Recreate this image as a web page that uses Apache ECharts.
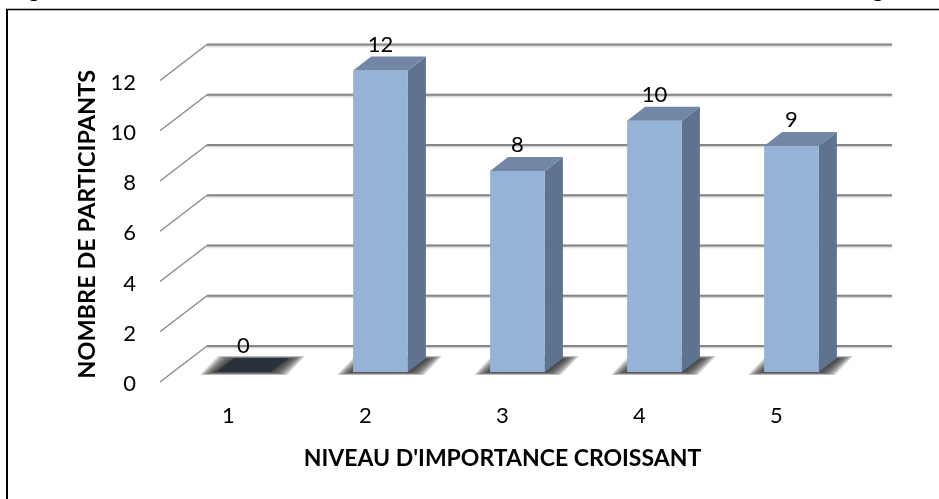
<!DOCTYPE html>
<html>
<head>
<meta charset="utf-8">
<style>
  html, body { margin: 0; padding: 0; background: #fff; }
  #chart { width: 939px; height: 499px; }
</style>
<script src="https://cdn.jsdelivr.net/npm/echarts@6/dist/echarts.min.js"></script>
</head>
<body>
<div id="chart"></div>
<script>
var categories = ['1', '2', '3', '4', '5'];
var values = [0, 12, 8, 10, 9];
var yTicks = [0, 2, 4, 6, 8, 10, 12];
var xTitle = "NIVEAU D'IMPORTANCE CROISSANT";
var yTitle = 'NOMBRE DE PARTICIPANTS';

var font = 'Lato';
// faux 3D : decalage du mur du fond et de la profondeur des barres
var wallDx = 47, wallDy = -36;
var barDx = 18, barDy = -14;
var barShiftX = 15, barShiftY = -10;
var barRatio = 0.4;

var myChart = echarts.init(document.getElementById('chart'), null, { renderer: 'canvas' });

function renderWall(params, api) {
    var cs = params.coordSys;
    var y = api.coord([0, api.value(1)])[1];
    var left = cs.x, right = cs.x + cs.width;
    return {
        type: 'group',
        children: [{
            type: 'polyline',
            shape: { points: [[left, y], [left + wallDx, y + wallDy]] },
            style: { stroke: '#8c8c8c', lineWidth: 1.5, fill: null }
        }, {
            type: 'line',
            shape: { x1: left + wallDx, y1: y + wallDy, x2: right + wallDx, y2: y + wallDy },
            style: { stroke: '#868686', lineWidth: 2, shadowBlur: 2, shadowColor: 'rgba(0,0,0,0.25)', shadowOffsetY: 1 }
        }]
    };
}

// ombre au sol : couches translucides pour un bord flou
function renderShadow(params, api) {
    var base = api.coord([api.value(0), 0]);
    var w = api.size([1, 0])[0] * barRatio;
    var cx = base[0] + barShiftX;
    var y0 = base[1] + barShiftY;
    var children = [];
    for (var i = 0; i < 8; i++) {
        var grow = 16 - i * 2;
        var growY = 3 - i * 0.4;
        var x0 = cx - w / 2 - grow, x1 = cx + w / 2 + grow;
        var yb = y0 + growY, yt = y0 + barDy - growY + 1;
        children.push({
            type: 'polygon',
            shape: { points: [[x0, yb], [x1, yb], [x1 + barDx, yt], [x0 + barDx, yt]] },
            style: { fill: 'rgba(40,40,40,0.2)' }
        });
    }
    return { type: 'group', children: children };
}

function renderBar(params, api) {
    var idx = api.value(0), val = api.value(1);
    var base = api.coord([idx, 0]);
    var top = api.coord([idx, val]);
    var w = api.size([1, 0])[0] * barRatio;
    var cx = base[0] + barShiftX;
    var x0 = cx - w / 2, x1 = cx + w / 2;
    var yb = base[1] + barShiftY, yt = top[1] + barShiftY;
    var children = [];
    if (val > 0) {
        children.push({
            type: 'polygon',
            shape: { points: [[x1, yb], [x1 + barDx, yb + barDy], [x1 + barDx, yt + barDy], [x1, yt]] },
            style: { fill: '#5f7290' }
        }, {
            type: 'rect',
            shape: { x: x0, y: yt, width: w, height: yb - yt },
            style: { fill: '#95b3d7' }
        });
    }
    children.push({
        type: 'polygon',
        shape: { points: [[x0, yt], [x1, yt], [x1 + barDx, yt + barDy], [x0 + barDx, yt + barDy]] },
        style: { fill: val > 0 ? '#7287a5' : '#29313c' }
    }, {
        type: 'text',
        style: {
            x: cx, y: yt - 26, text: String(val), align: 'center', verticalAlign: 'middle',
            fill: '#000', font: '22px ' + font
        }
    });
    return { type: 'group', children: children };
}

var option = {
    animation: false,
    backgroundColor: '#fff',
    grid: { left: 160, top: 80.5, width: 685, bottom: 117 },
    xAxis: {
        type: 'category',
        data: categories,
        name: xTitle,
        nameLocation: 'middle',
        nameGap: 65,
        nameTextStyle: { fontFamily: font, fontWeight: 'bold', fontSize: 23, color: '#000' },
        axisLine: { show: false },
        axisTick: { show: false },
        axisLabel: { margin: 23, fontFamily: font, fontSize: 22, color: '#000' }
    },
    yAxis: {
        type: 'value',
        min: 0,
        max: 12,
        interval: 2,
        name: yTitle,
        nameLocation: 'middle',
        nameGap: 60,
        nameTextStyle: { fontFamily: font, fontWeight: 'bold', fontSize: 23.5, color: '#000', padding: [0, 0, 0, 14] },
        axisLine: { show: false },
        axisTick: { show: false },
        splitLine: { show: false },
        axisLabel: { margin: 24, fontFamily: font, fontSize: 22, color: '#000', verticalAlign: 'top', lineHeight: 4 }
    },
    series: [{
        type: 'custom',
        renderItem: renderWall,
        data: yTicks.map(function (v) { return [0, v]; }),
        encode: { x: 0, y: 1 },
        z: 1,
        silent: true
    }, {
        type: 'custom',
        renderItem: renderShadow,
        data: values.map(function (v, i) { return [i, v]; }),
        encode: { x: 0, y: 1 },
        z: 2,
        silent: true
    }, {
        type: 'custom',
        renderItem: renderBar,
        data: values.map(function (v, i) { return [i, v]; }),
        encode: { x: 0, y: 1 },
        z: 3
    }],
    graphic: [
        // cadre : seulement haut et gauche, l'image est recadree
        { type: 'line', shape: { x1: 6, y1: 9.5, x2: 939, y2: 9.5 }, style: { stroke: '#000', lineWidth: 1.5 } },
        { type: 'line', shape: { x1: 7, y1: 9, x2: 7, y2: 499 }, style: { stroke: '#000', lineWidth: 2 } },
        // jambages du titre coupe par le haut de l'image
        { type: 'text', x: 34, y: -10, style: { text: 'g', font: 'bold 22px ' + font, fill: '#000', align: 'center', verticalAlign: 'middle' } },
        { type: 'text', x: 878, y: -10, style: { text: 'g', font: 'bold 22px ' + font, fill: '#000', align: 'center', verticalAlign: 'middle' } }
    ]
};

myChart.setOption(option);
</script>
</body>
</html>
